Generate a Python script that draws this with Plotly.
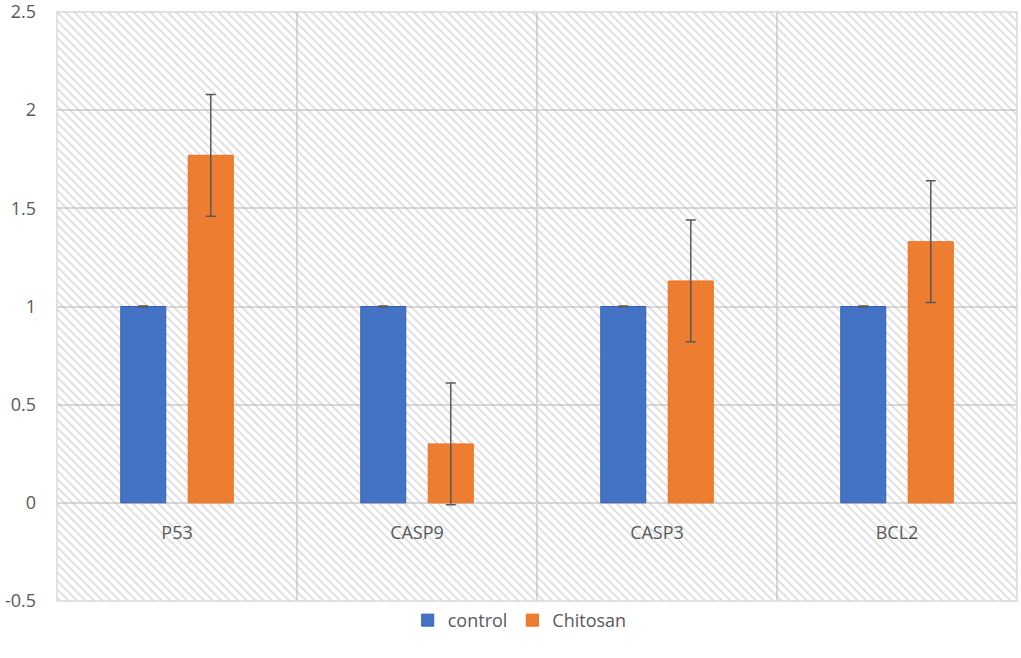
import plotly.graph_objects as go

# data
genes = ["P53", "CASP9", "CASP3", "BCL2"]
control = [1.0, 1.0, 1.0, 1.0]
control_err = [0.003, 0.003, 0.003, 0.003]
chitosan = [1.77, 0.30, 1.13, 1.33]
chitosan_err = [0.31, 0.31, 0.31, 0.31]

y_range = [-0.5, 2.5]
y_ticks = [-0.5, 0, 0.5, 1, 1.5, 2, 2.5]
y_ticktext = ["-0.5", "0", "0.5", "1", "1.5", "2", "2.5"]

FONT = "Open Sans"
TXT = "#595959"
GRID = "#d9d9d9"

fig = go.Figure()

# hatched plot-area fill (main subplot, drawn underneath the bars)
fig.add_trace(go.Bar(
    x=[0], y=[y_range[1] - y_range[0]], base=[y_range[0]], width=[1],
    marker=dict(color="rgba(0,0,0,0)", line=dict(width=0),
                pattern=dict(shape="\\", size=6, solidity=0.3,
                             fgcolor="#b8b8b8", bgcolor="rgba(0,0,0,0)")),
    showlegend=False, hoverinfo="skip", xaxis="x", yaxis="y",
))

xs = list(range(len(genes)))
err_style = dict(type="data", color="#595959", thickness=1.5, width=5)

fig.add_trace(go.Bar(
    x=xs, y=control, name="control", xaxis="x2", yaxis="y",
    marker=dict(color="#4472C4", line=dict(color="#3460b0", width=1)),
    error_y=dict(array=control_err, **err_style),
))
fig.add_trace(go.Bar(
    x=xs, y=chitosan, name="Chitosan", xaxis="x2", yaxis="y",
    marker=dict(color="#ED7D31", line=dict(color="#f26d1a", width=1)),
    error_y=dict(array=chitosan_err, **err_style),
))

zero_pos = (0 - y_range[0]) / (y_range[1] - y_range[0])

fig.update_layout(
    width=1021, height=658,
    margin=dict(l=57, r=4, t=12, b=57),
    paper_bgcolor="white", plot_bgcolor="white",
    font=dict(family=FONT, size=16, color=TXT),
    barmode="group", bargap=0.4375, bargroupgap=1/3,
    xaxis=dict(range=[-0.5, 0.5], visible=False, showgrid=False, fixedrange=True),
    xaxis2=dict(
        overlaying="x", anchor="free", position=zero_pos, automargin=False,
        range=[-0.5, len(genes) - 0.5],
        tickmode="array", tickvals=xs, ticktext=genes,
        showgrid=False, zeroline=False, showline=False, ticks="",
        ticklabelstandoff=17,
        tickfont=dict(family=FONT, size=18, color=TXT),
        minor=dict(tickmode="array", tickvals=[i + 0.5 for i in xs[:-1]],
                   showgrid=True, gridcolor=GRID, gridwidth=1.5, ticks=""),
    ),
    yaxis=dict(
        range=y_range, tickmode="array", tickvals=y_ticks, ticktext=y_ticktext,
        showgrid=True, gridcolor=GRID, gridwidth=1.5, automargin=False,
        zeroline=False, showline=False, ticks="",
        ticklabelstandoff=20, ticklabeloverflow="allow",
        tickfont=dict(family=FONT, size=18, color=TXT),
    ),
    legend=dict(orientation="h", x=0.482, xanchor="center", y=-0.033, yanchor="middle",
                font=dict(family=FONT, size=18, color=TXT), itemwidth=30),
    shapes=[dict(type="rect", xref="paper", yref="paper", x0=0, x1=1, y0=0, y1=1,
                 line=dict(color=GRID, width=1.5), layer="above")],
)

fig.write_html("out.html", config={"displayModeBar": False},
               post_script="document.body.style.margin='0';")
